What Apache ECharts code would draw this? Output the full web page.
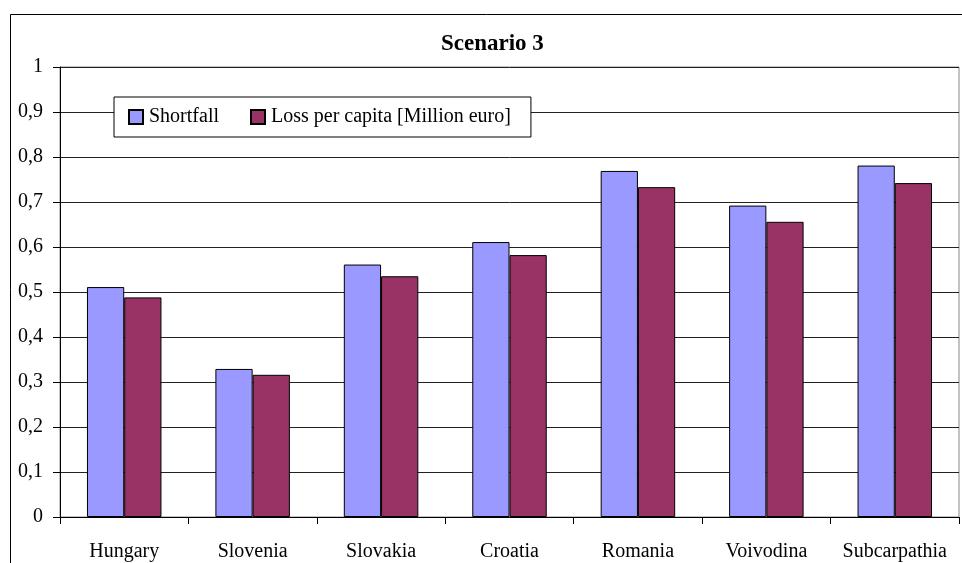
<!DOCTYPE html>
<html>
<head>
<meta charset="utf-8">
<script src="https://cdn.jsdelivr.net/npm/echarts@6/dist/echarts.min.js"></script>
<style>
  html, body { margin: 0; padding: 0; background: #fff; }
  #main { width: 962px; height: 563px; }
</style>
</head>
<body>
<div id="main"></div>
<script>
var regions = ['Hungary', 'Slovenia', 'Slovakia', 'Croatia', 'Romania', 'Voivodina', 'Subcarpathia'];
var shortfall = [0.511, 0.329, 0.561, 0.611, 0.769, 0.692, 0.781];
var lossPerCapita = [0.488, 0.316, 0.535, 0.582, 0.733, 0.656, 0.742];
var seriesNames = ['Shortfall', 'Loss per capita [Million euro]'];

var serif = '"Liberation Serif", "DejaVu Serif", serif';

var chart = echarts.init(document.getElementById('main'));

/* comma as decimal separator, like the source */
function commaFmt(v) {
    return String(Math.round(v * 10) / 10).replace('.', ',');
}

var option = {
    backgroundColor: '#fff',
    animation: false,
    title: {
        text: 'Scenario 3',
        left: 436,
        top: 28,
        textStyle: { fontFamily: serif, fontSize: 23, fontWeight: 'bold', color: '#000' }
    },
    legend: {
        left: 114,
        top: 97,
        orient: 'horizontal',
        padding: [10, 20, 10, 14],
        itemGap: 31,
        itemWidth: 14,
        itemHeight: 14,
        borderColor: '#000',
        borderWidth: 1,
        backgroundColor: '#fff',
        icon: 'rect',
        textStyle: { fontFamily: serif, fontSize: 20, color: '#000', padding: [0, 0, 0, 1] },
        data: seriesNames
    },
    graphic: [{
        type: 'rect',
        shape: { x: 10.5, y: 14.5, width: 1000, height: 700 },
        style: { fill: 'none', stroke: '#000', lineWidth: 1 },
        z: -1
    }],
    grid: {
        left: 60,
        right: 3,
        top: 67,
        bottom: 46,
        show: true,
        borderColor: '#888',
        borderWidth: 1
    },
    xAxis: {
        type: 'category',
        data: regions,
        axisLine: { lineStyle: { color: '#000' } },
        axisTick: { show: true, interval: 0, length: 7, alignWithLabel: false, lineStyle: { color: '#000' } },
        axisLabel: { interval: 0, fontFamily: serif, fontSize: 20, color: '#000', margin: 25 }
    },
    yAxis: {
        type: 'value',
        min: 0,
        max: 1,
        interval: 0.1,
        axisLine: { show: true, lineStyle: { color: '#000' } },
        axisTick: { show: true, length: 7, lineStyle: { color: '#000' } },
        axisLabel: { fontFamily: serif, fontSize: 20, color: '#000', margin: 17, formatter: commaFmt },
        splitLine: { show: true, lineStyle: { color: '#222', width: 1 } }
    },
    series: [{
        name: seriesNames[0],
        type: 'bar',
        data: shortfall,
        barGap: '0%',
        barCategoryGap: '42%',
        itemStyle: { color: '#9999FF', borderColor: '#000', borderWidth: 1 }
    }, {
        name: seriesNames[1],
        type: 'bar',
        data: lossPerCapita,
        barGap: '0%',
        barCategoryGap: '42%',
        itemStyle: { color: '#993366', borderColor: '#000', borderWidth: 1 }
    }]
};

chart.setOption(option);
</script>
</body>
</html>
